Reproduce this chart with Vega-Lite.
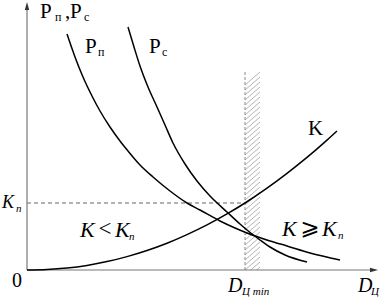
{
  "$schema": "https://vega.github.io/schema/vega-lite/v6.json",
  "width": 351,
  "height": 267,
  "autosize": "none",
  "padding": {"left": 27, "top": 3, "right": 3, "bottom": 27},
  "config": {"view": {"stroke": null}},
  "datasets": {
    "hatch": [
      {"x": 218, "x2": 233, "y": -10, "y2": 3}, {"x": 218, "x2": 233, "y": -5, "y2": 8},
      {"x": 218, "x2": 233, "y": 0, "y2": 13}, {"x": 218, "x2": 233, "y": 5, "y2": 18},
      {"x": 218, "x2": 233, "y": 10, "y2": 23}, {"x": 218, "x2": 233, "y": 15, "y2": 28},
      {"x": 218, "x2": 233, "y": 20, "y2": 33}, {"x": 218, "x2": 233, "y": 25, "y2": 38},
      {"x": 218, "x2": 233, "y": 30, "y2": 43}, {"x": 218, "x2": 233, "y": 35, "y2": 48},
      {"x": 218, "x2": 233, "y": 40, "y2": 53}, {"x": 218, "x2": 233, "y": 45, "y2": 58},
      {"x": 218, "x2": 233, "y": 50, "y2": 63}, {"x": 218, "x2": 233, "y": 55, "y2": 68},
      {"x": 218, "x2": 233, "y": 60, "y2": 73}, {"x": 218, "x2": 233, "y": 65, "y2": 78},
      {"x": 218, "x2": 233, "y": 70, "y2": 83}, {"x": 218, "x2": 233, "y": 75, "y2": 88},
      {"x": 218, "x2": 233, "y": 80, "y2": 93}, {"x": 218, "x2": 233, "y": 85, "y2": 98},
      {"x": 218, "x2": 233, "y": 90, "y2": 103}, {"x": 218, "x2": 233, "y": 95, "y2": 108},
      {"x": 218, "x2": 233, "y": 100, "y2": 113}, {"x": 218, "x2": 233, "y": 105, "y2": 118},
      {"x": 218, "x2": 233, "y": 110, "y2": 123}, {"x": 218, "x2": 233, "y": 115, "y2": 128},
      {"x": 218, "x2": 233, "y": 120, "y2": 133}, {"x": 218, "x2": 233, "y": 125, "y2": 138},
      {"x": 218, "x2": 233, "y": 130, "y2": 143}, {"x": 218, "x2": 233, "y": 135, "y2": 148},
      {"x": 218, "x2": 233, "y": 140, "y2": 153}, {"x": 218, "x2": 233, "y": 145, "y2": 158},
      {"x": 218, "x2": 233, "y": 150, "y2": 163}, {"x": 218, "x2": 233, "y": 155, "y2": 168},
      {"x": 218, "x2": 233, "y": 160, "y2": 173}, {"x": 218, "x2": 233, "y": 165, "y2": 178},
      {"x": 218, "x2": 233, "y": 170, "y2": 183}, {"x": 218, "x2": 233, "y": 175, "y2": 188},
      {"x": 218, "x2": 233, "y": 180, "y2": 193}, {"x": 218, "x2": 233, "y": 185, "y2": 198}
    ],
    "bandEdge": [{"x": 218, "y": 0, "y2": 200}],
    "knLine": [{"x": 0, "x2": 218, "y": 67}],
    "axes": [
      {"x": 0, "y": 0, "x2": 0, "y2": 263},
      {"x": 0, "y": 0, "x2": 346, "y2": 0}
    ],
    "arrowUp": [{"x": 0, "y": 264}],
    "arrowRight": [{"x": 347, "y": 0}],
    "curves": [
      {"series": "Pп", "x": 40, "y": 236}, {"series": "Pп", "x": 48, "y": 213},
      {"series": "Pп", "x": 56, "y": 193}, {"series": "Pп", "x": 65, "y": 174},
      {"series": "Pп", "x": 73, "y": 159}, {"series": "Pп", "x": 83, "y": 143},
      {"series": "Pп", "x": 93, "y": 129}, {"series": "Pп", "x": 101, "y": 119},
      {"series": "Pп", "x": 113, "y": 105}, {"series": "Pп", "x": 126, "y": 93},
      {"series": "Pп", "x": 143, "y": 79}, {"series": "Pп", "x": 160, "y": 67},
      {"series": "Pп", "x": 173, "y": 60}, {"series": "Pп", "x": 193, "y": 49},
      {"series": "Pп", "x": 208, "y": 42}, {"series": "Pп", "x": 220, "y": 37},
      {"series": "Pп", "x": 243, "y": 29}, {"series": "Pп", "x": 260, "y": 24},
      {"series": "Pп", "x": 283, "y": 17}, {"series": "Pп", "x": 313, "y": 10},
      {"series": "Pс", "x": 101, "y": 243}, {"series": "Pс", "x": 107, "y": 223},
      {"series": "Pс", "x": 113, "y": 204}, {"series": "Pс", "x": 121, "y": 183},
      {"series": "Pс", "x": 130, "y": 163}, {"series": "Pс", "x": 138, "y": 145},
      {"series": "Pс", "x": 146, "y": 127}, {"series": "Pс", "x": 158, "y": 106},
      {"series": "Pс", "x": 170, "y": 89}, {"series": "Pс", "x": 183, "y": 74},
      {"series": "Pс", "x": 200, "y": 58}, {"series": "Pс", "x": 213, "y": 46},
      {"series": "Pс", "x": 220, "y": 40}, {"series": "Pс", "x": 233, "y": 30},
      {"series": "Pс", "x": 243, "y": 23}, {"series": "Pс", "x": 258, "y": 15},
      {"series": "Pс", "x": 280, "y": 8},
      {"series": "K", "x": 0, "y": 0}, {"series": "K", "x": 20, "y": 0.5},
      {"series": "K", "x": 40, "y": 2}, {"series": "K", "x": 60, "y": 4.6},
      {"series": "K", "x": 80, "y": 8.4}, {"series": "K", "x": 100, "y": 13.4},
      {"series": "K", "x": 120, "y": 19.5}, {"series": "K", "x": 140, "y": 26.8},
      {"series": "K", "x": 160, "y": 35.4}, {"series": "K", "x": 180, "y": 45.1},
      {"series": "K", "x": 200, "y": 56.1}, {"series": "K", "x": 218, "y": 67},
      {"series": "K", "x": 240, "y": 81.9}, {"series": "K", "x": 260, "y": 96.7},
      {"series": "K", "x": 280, "y": 112.6}, {"series": "K", "x": 300, "y": 129.9},
      {"series": "K", "x": 310, "y": 139}
    ],
    "txtBig": [
      {"t": "Р", "x": 13, "y": 252}, {"t": ",", "x": 38, "y": 252},
      {"t": "Р", "x": 43, "y": 252}, {"t": "Р", "x": 58, "y": 217},
      {"t": "Р", "x": 122, "y": 217}, {"t": "K", "x": 281, "y": 135}
    ],
    "txtZero": [{"t": "0", "x": -10, "y": -17}],
    "txtSub": [
      {"t": "п", "x": 28, "y": 249}, {"t": "с", "x": 57, "y": 249},
      {"t": "п", "x": 71, "y": 214}, {"t": "с", "x": 135, "y": 214}
    ],
    "txtItal": [
      {"t": "K", "x": 53, "y": 33}, {"t": "K", "x": 88, "y": 33},
      {"t": "K", "x": 255, "y": 34}, {"t": "K", "x": 295, "y": 34}
    ],
    "txtD": [{"t": "D", "x": 201, "y": -22}, {"t": "D", "x": 331, "y": -22}],
    "txtKn": [{"t": "K", "x": -25, "y": 62}],
    "txtOps": [{"t": "<", "x": 78, "y": 34}, {"t": "⩾", "x": 283, "y": 35}],
    "txtItalSub": [
      {"t": "п", "x": -11, "y": 58}, {"t": "п", "x": 102, "y": 30},
      {"t": "п", "x": 311, "y": 31}, {"t": "Ц min", "x": 215, "y": -25},
      {"t": "Ц", "x": 344, "y": -25}
    ]
  },
  "layer": [
    {
      "data": {"name": "hatch"},
      "mark": {"type": "rule", "clip": true, "color": "#a0a0a0", "strokeWidth": 0.8},
      "encoding": {
        "x": {"field": "x", "type": "quantitative", "scale": {"domain": [0, 351], "nice": false, "zero": false}, "axis": null},
        "y": {"field": "y", "type": "quantitative", "scale": {"domain": [0, 267], "nice": false, "zero": false}, "axis": null},
        "x2": {"field": "x2"},
        "y2": {"field": "y2"}
      }
    },
    {
      "data": {"name": "bandEdge"},
      "mark": {"type": "rule", "color": "#8a8a8a", "strokeWidth": 1, "strokeDash": [3, 2]},
      "encoding": {
        "x": {"field": "x", "type": "quantitative"},
        "y": {"field": "y", "type": "quantitative"},
        "y2": {"field": "y2"}
      }
    },
    {
      "data": {"name": "knLine"},
      "mark": {"type": "rule", "color": "#666666", "strokeWidth": 1, "strokeDash": [4, 3]},
      "encoding": {
        "x": {"field": "x", "type": "quantitative"},
        "x2": {"field": "x2"},
        "y": {"field": "y", "type": "quantitative"}
      }
    },
    {
      "data": {"name": "axes"},
      "mark": {"type": "rule", "color": "#777777", "strokeWidth": 1.2},
      "encoding": {
        "x": {"field": "x", "type": "quantitative"},
        "y": {"field": "y", "type": "quantitative"},
        "x2": {"field": "x2"},
        "y2": {"field": "y2"}
      }
    },
    {
      "data": {"name": "arrowUp"},
      "mark": {"type": "point", "shape": "M 0 -1 L 0.55 1 L -0.55 1 Z", "filled": true, "color": "#333333", "size": 64, "opacity": 1},
      "encoding": {
        "x": {"field": "x", "type": "quantitative"},
        "y": {"field": "y", "type": "quantitative"}
      }
    },
    {
      "data": {"name": "arrowRight"},
      "mark": {"type": "point", "shape": "M 1 0 L -1 0.55 L -1 -0.55 Z", "filled": true, "color": "#333333", "size": 64, "opacity": 1},
      "encoding": {
        "x": {"field": "x", "type": "quantitative"},
        "y": {"field": "y", "type": "quantitative"}
      }
    },
    {
      "data": {"name": "curves"},
      "mark": {"type": "line", "color": "#000000", "strokeWidth": 1.5, "interpolate": "monotone"},
      "encoding": {
        "x": {"field": "x", "type": "quantitative"},
        "y": {"field": "y", "type": "quantitative"},
        "detail": {"field": "series"}
      }
    },
    {
      "data": {"name": "txtBig"},
      "mark": {"type": "text", "font": "Liberation Serif", "fontSize": 21, "align": "left", "baseline": "alphabetic", "color": "#000"},
      "encoding": {
        "x": {"field": "x", "type": "quantitative"},
        "y": {"field": "y", "type": "quantitative"},
        "text": {"field": "t"}
      }
    },
    {
      "data": {"name": "txtZero"},
      "mark": {"type": "text", "font": "Liberation Serif", "fontSize": 20, "align": "center", "baseline": "alphabetic", "color": "#000"},
      "encoding": {
        "x": {"field": "x", "type": "quantitative"},
        "y": {"field": "y", "type": "quantitative"},
        "text": {"field": "t"}
      }
    },
    {
      "data": {"name": "txtSub"},
      "mark": {"type": "text", "font": "Liberation Serif", "fontSize": 12, "align": "left", "baseline": "alphabetic", "color": "#000"},
      "encoding": {
        "x": {"field": "x", "type": "quantitative"},
        "y": {"field": "y", "type": "quantitative"},
        "text": {"field": "t"}
      }
    },
    {
      "data": {"name": "txtItal"},
      "mark": {"type": "text", "font": "Liberation Serif", "fontStyle": "italic", "fontSize": 22, "align": "left", "baseline": "alphabetic", "color": "#000"},
      "encoding": {
        "x": {"field": "x", "type": "quantitative"},
        "y": {"field": "y", "type": "quantitative"},
        "text": {"field": "t"}
      }
    },
    {
      "data": {"name": "txtD"},
      "mark": {"type": "text", "font": "Liberation Serif", "fontStyle": "italic", "fontSize": 20, "align": "left", "baseline": "alphabetic", "color": "#000"},
      "encoding": {
        "x": {"field": "x", "type": "quantitative"},
        "y": {"field": "y", "type": "quantitative"},
        "text": {"field": "t"}
      }
    },
    {
      "data": {"name": "txtKn"},
      "mark": {"type": "text", "font": "Liberation Serif", "fontStyle": "italic", "fontSize": 18, "align": "left", "baseline": "alphabetic", "color": "#000"},
      "encoding": {
        "x": {"field": "x", "type": "quantitative"},
        "y": {"field": "y", "type": "quantitative"},
        "text": {"field": "t"}
      }
    },
    {
      "data": {"name": "txtOps"},
      "mark": {"type": "text", "font": "Liberation Serif, DejaVu Sans", "fontSize": 23, "align": "center", "baseline": "alphabetic", "color": "#000"},
      "encoding": {
        "x": {"field": "x", "type": "quantitative"},
        "y": {"field": "y", "type": "quantitative"},
        "text": {"field": "t"}
      }
    },
    {
      "data": {"name": "txtItalSub"},
      "mark": {"type": "text", "font": "Liberation Serif", "fontStyle": "italic", "fontSize": 11, "align": "left", "baseline": "alphabetic", "color": "#000"},
      "encoding": {
        "x": {"field": "x", "type": "quantitative"},
        "y": {"field": "y", "type": "quantitative"},
        "text": {"field": "t"}
      }
    }
  ]
}
